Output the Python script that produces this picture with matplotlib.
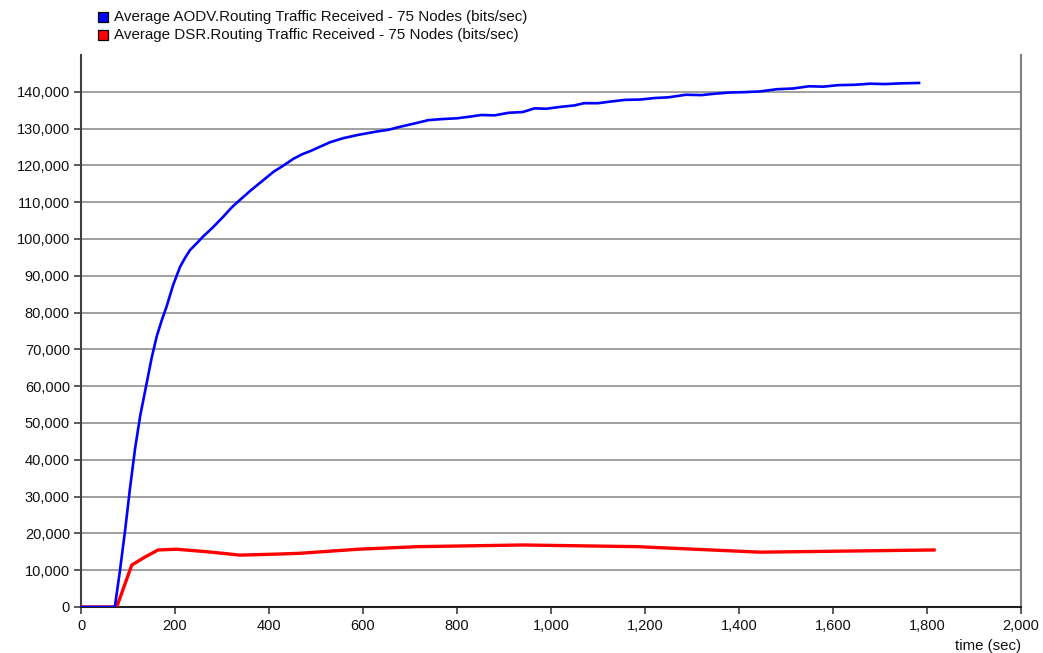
import matplotlib
matplotlib.use("Agg")
import matplotlib.pyplot as plt
from matplotlib.patches import Rectangle
from matplotlib.ticker import FuncFormatter, MultipleLocator

plt.rcParams['font.family'] = ['Liberation Sans', 'DejaVu Sans']

# ---- data ----
aodv_time = [0, 72, 83, 94, 104, 115, 126, 140, 150, 161, 172, 182, 196, 211, 222, 232,
             246, 260, 281, 303, 320, 338, 362, 388, 410, 430, 452, 470, 490, 509, 530,
             558, 590, 629, 655, 679, 710, 739, 770, 800, 830, 852, 880, 910, 940, 965,
             990, 1020, 1050, 1070, 1100, 1130, 1157, 1190, 1220, 1250, 1287, 1320, 1350,
             1380, 1410, 1445, 1480, 1515, 1549, 1580, 1610, 1645, 1679, 1710, 1745, 1783]
aodv_vals = [0, 0, 10000, 21000, 32000, 43000, 52000, 61000, 67500, 73500, 78000, 81600,
             87500, 92500, 95000, 97000, 98800, 100700, 103200, 106100, 108500, 110600,
             113300, 116000, 118300, 119900, 121800, 123000, 124000, 125100, 126300,
             127400, 128300, 129200, 129700, 130500, 131400, 132300, 132600, 132800,
             133300, 133700, 133600, 134300, 134500, 135500, 135400, 135900, 136300,
             136900, 136900, 137400, 137800, 137900, 138300, 138500, 139200, 139100,
             139500, 139800, 139900, 140100, 140700, 140900, 141500, 141400, 141800,
             141900, 142200, 142100, 142300, 142400]

dsr_time = [0, 76, 108, 135, 164, 203, 270, 338, 423, 466, 590, 717, 940, 1183, 1445, 1815]
dsr_vals = [0, 0, 11400, 13500, 15500, 15700, 15000, 14100, 14400, 14600, 15700, 16400,
            16850, 16400, 14900, 15500]

legend_labels = ["Average AODV.Routing Traffic Received - 75 Nodes (bits/sec)",
                 "Average DSR.Routing Traffic Received - 75 Nodes (bits/sec)"]
series_colors = ["#0000ff", "#ff0000"]
x_label = "time (sec)"

# ---- figure ----
W, H = 1043, 653
fig = plt.figure(figsize=(W / 100, H / 100), dpi=100)
ax = fig.add_axes([81 / W, 1 - 607 / H, (1021 - 81) / W, (607 - 55) / H])

ax.plot(dsr_time, dsr_vals, color=series_colors[1], lw=2.4, zorder=3,
        solid_joinstyle='round')
ax.plot(aodv_time, aodv_vals, color=series_colors[0], lw=1.9, zorder=4,
        solid_joinstyle='round')

ax.set_xlim(0, 2000)
ax.set_ylim(0, 150000)
ax.xaxis.set_major_locator(MultipleLocator(200))
ax.set_yticks(range(0, 140001, 10000))
fmt = FuncFormatter(lambda v, p: f"{int(v):,}")
ax.xaxis.set_major_formatter(fmt)
ax.yaxis.set_major_formatter(fmt)

ax.grid(axis='y', color='#a0a0a0', lw=1.4, zorder=1)
ax.grid(axis='x', visible=False)
ax.set_axisbelow(True)

ax.spines['top'].set_visible(False)
ax.spines['right'].set_color('#808080')
ax.spines['right'].set_linewidth(1.5)
ax.spines['left'].set_color('#404040')
ax.spines['left'].set_linewidth(1.5)
ax.spines['bottom'].set_color('#202020')
ax.spines['bottom'].set_linewidth(1.5)

ax.tick_params(axis='both', direction='out', length=5, width=1.2, color='#404040',
               labelsize=10.5, labelcolor='#111111')
ax.tick_params(axis='y', pad=3)
ax.tick_params(axis='x', pad=4)

fig.text(1021 / W, 1 - 646 / H, x_label, ha='right', va='center', fontsize=10.8,
         color='#111111')

# ---- legend (top-left, outside axes) ----
for i, (lab, col) in enumerate(zip(legend_labels, series_colors)):
    yc = 17 + i * 18
    fig.patches.append(Rectangle((98 / W, 1 - (yc + 5) / H), 10 / W, 10 / H,
                                 transform=fig.transFigure, facecolor=col,
                                 edgecolor='black', lw=0.9))
    fig.text(114 / W, 1 - yc / H, lab, ha='left', va='center', fontsize=10.9,
             color='#111111')

fig.savefig("out.png", dpi=100)
